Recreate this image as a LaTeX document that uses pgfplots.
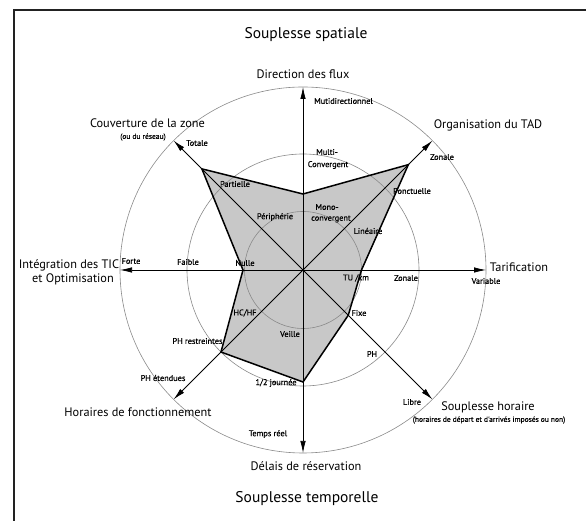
\documentclass[border=0pt]{standalone}
\usepackage{fontspec}
\setmainfont{PT Sans}
\newfontfamily\semib{PT Sans}[FakeBold=0.6]
\usepackage{pgfplots}
\usepackage{pgfplotstable}
\pgfplotsset{compat=1.18}
\usetikzlibrary{arrows.meta}
\definecolor{radarfill}{HTML}{C8C8C8}
\definecolor{ringgray}{HTML}{8A8A8A}
\definecolor{framegray}{HTML}{222222}

% angle (deg) / radius (pt) of each vertex
\pgfplotstableread{
a r
90 76
45 149
0 58.5
-45 64
-90 112
-135 116
180 60
135 143
}\radar

\newcommand{\fbig}{\fontsize{12.3}{14}\selectfont}
\newcommand{\fttl}{\fontsize{15.5}{18}\selectfont}
\newcommand{\fsm}{\semib\fontsize{8.3}{9.5}\selectfont}
\newcommand{\fxs}{\semib\fontsize{7.5}{8.5}\selectfont}

\begin{document}
\begin{tikzpicture}
\begin{axis}[
  x=1pt, y=1pt,
  xmin=-303, xmax=283, ymin=-251, ymax=270,
  hide axis, clip=false,
]
\coordinate (bl) at (axis cs:-303,-251);
\coordinate (tr) at (axis cs:283,270);

% frame (only top and left edges show)
\draw[framegray, line width=1.8pt] (axis cs:-289,-251) -- (axis cs:-289,260) -- (axis cs:283,260);

% area
\addplot[draw=none, fill=radarfill] table[x expr={\thisrow{r}*cos(\thisrow{a})},
  y expr={\thisrow{r}*sin(\thisrow{a})}] {\radar} -- cycle;

% rings
\draw[ringgray, line width=0.6pt] (axis cs:0,0) circle[radius=58.5];
\draw[ringgray, line width=0.6pt] (axis cs:0,0) circle[radius=116];
\draw[ringgray, line width=0.6pt] (axis cs:0,0) circle[radius=183];

% outline
\addplot[black, line width=1.5pt, line join=miter] table[x expr={\thisrow{r}*cos(\thisrow{a})},
  y expr={\thisrow{r}*sin(\thisrow{a})}] {\radar} -- cycle;

% spokes
\tikzset{spoke/.style={black, line width=0.75pt, -{Latex[length=12pt,width=5.5pt]}}}
\draw[spoke] (axis cs:0,0) -- (axis cs:0,183);
\draw[spoke] (axis cs:0,0) -- (axis cs:129.4,129.4);
\draw[spoke] (axis cs:0,0) -- (axis cs:183,0);
\draw[spoke] (axis cs:0,0) -- (axis cs:129.4,-129.4);
\draw[spoke] (axis cs:0,0) -- (axis cs:0,-183);
\draw[spoke] (axis cs:0,0) -- (axis cs:-129.4,-129.4);
\draw[spoke] (axis cs:0,0) -- (axis cs:-183,0);
\draw[spoke] (axis cs:0,0) -- (axis cs:-129.4,129.4);

% titles
\node[font=\fttl] at (axis cs:3,235) {Souplesse spatiale};
\node[font=\fttl] at (axis cs:4,-229) {Souplesse temporelle};

% axis names
\node[font=\fbig] at (axis cs:0,196) {Direction des flux};
\node[font=\fbig] at (axis cs:185,145) {Organisation du TAD};
\node[font=\fbig] at (axis cs:216,3) {Tarification};
\node[font=\fbig] at (axis cs:185,-137) {Souplesse horaire};
\node[font=\fxs] at (axis cs:186,-150) {(horaires de départ et d'arrivés imposés ou non)};
\node[font=\fbig] at (axis cs:3,-196) {Délais de réservation};
\node[font=\fbig] at (axis cs:-165,-142) {Horaires de fonctionnement};
\node[font=\fbig] at (axis cs:-234,5) {Intégration des TIC};
\node[font=\fbig] at (axis cs:-230,-9) {et Optimisation};
\node[font=\fbig] at (axis cs:-155.5,147) {Couverture de la zone};
\node[font=\fxs] at (axis cs:-160,133) {(ou du réseau)};

% level labels
\node[font=\fsm] at (axis cs:40.5,169) {Mutidirectionnel};
\node[font=\fsm] at (axis cs:24,118) {Multi-};
\node[font=\fsm] at (axis cs:25,105) {Convergent};
\node[font=\fsm] at (axis cs:24,63) {Mono-};
\node[font=\fsm] at (axis cs:28,51) {convergent};
\node[font=\fsm] at (axis cs:139,113) {Zonale};
\node[font=\fsm] at (axis cs:109,79) {Ponctuelle};
\node[font=\fsm] at (axis cs:65,39) {Linéaire};
\node[font=\fsm] at (axis cs:53,-8) {TU /km};
\node[font=\fsm] at (axis cs:103,-8) {Zonale};
\node[font=\fsm] at (axis cs:183,-11) {Variable};
\node[font=\fsm] at (axis cs:56,-43) {Fixe};
\node[font=\fsm] at (axis cs:69,-84) {PH};
\node[font=\fsm] at (axis cs:109,-132) {Libre};
\node[font=\fsm] at (axis cs:-13,-64) {Veille};
\node[font=\fsm] at (axis cs:-27,-113) {1/2 journée};
\node[font=\fsm] at (axis cs:-35,-164) {Temps réel};
\node[font=\fsm] at (axis cs:-58,-43) {HC/HF};
\node[font=\fsm] at (axis cs:-105.5,-71) {PH restreintes};
\node[font=\fsm] at (axis cs:-140,-108) {PH étendues};
\node[font=\fsm] at (axis cs:-58,7) {Nulle};
\node[font=\fsm] at (axis cs:-115,8) {Faible};
\node[font=\fsm] at (axis cs:-172,9) {Forte};
\node[font=\fsm] at (axis cs:-28,53) {Périphérie};
\node[font=\fsm] at (axis cs:-68,86) {Partielle};
\node[font=\fsm] at (axis cs:-106,127) {Totale};
\end{axis}
\pgfresetboundingbox
\useasboundingbox (bl) rectangle (tr);
\end{tikzpicture}
\end{document}
